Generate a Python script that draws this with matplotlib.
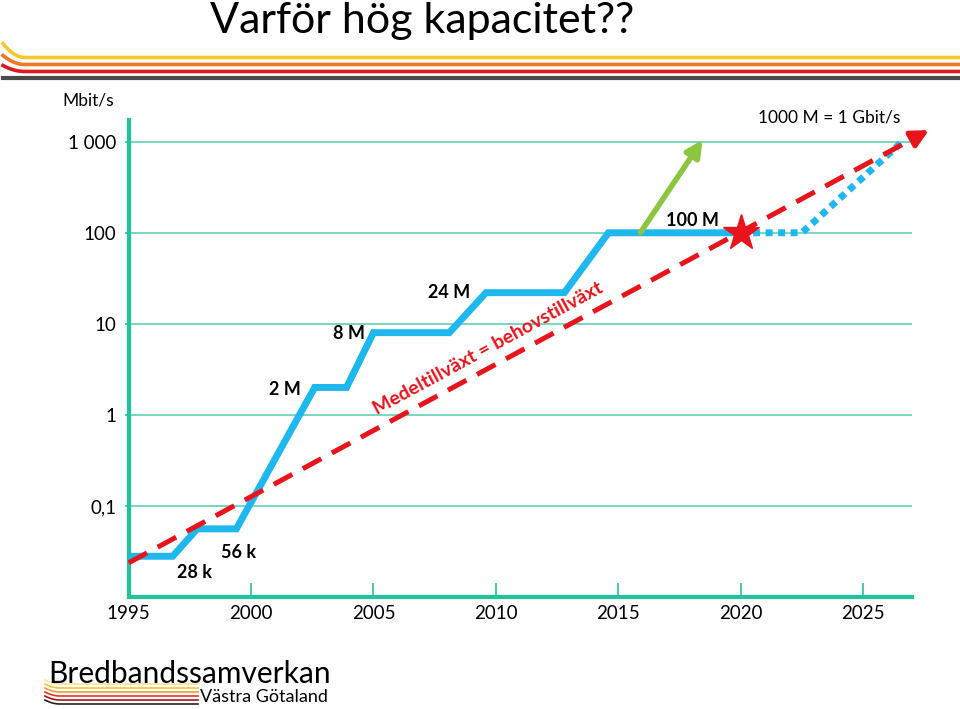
import numpy as np
import matplotlib
matplotlib.use('Agg')
import matplotlib.pyplot as plt
from matplotlib.lines import Line2D

plt.rcParams['font.family'] = ['Lato', 'DejaVu Sans']

#given data (Mbit/s per year)
years = [1995, 1996.8, 1997.8, 1999.4, 2002.6, 2003.9, 2005.0, 2008.1, 2009.6, 2012.8, 2014.6, 2020]
speed = [0.028, 0.028, 0.056, 0.056, 2, 2, 8, 8, 22, 22, 100, 100]

#forecast (dotted)
fc_years = [2020, 2022.5, 2026.6]
fc_speed = [100, 100, 1000]

#average growth (dashed)
avg_years = [1995, 2027.0]
avg_speed = [0.0237, 10**(-1.626 + 0.1454*32.0)]
avg_tip = (2027.7, 10**(-1.626 + 0.1454*32.7))

#green arrow
grn_start = (2015.9, 100)
grn_end = (2018.45, 1050)

#labels
lab_text = ['28 k', '56 k', '2 M', '8 M', '24 M', '100 M']
lab_x = [1997.7, 1999.5, 2001.4, 2004.0, 2008.1, 2018.05]
lab_y = [0.0188, 0.0305, 1.9, 7.9, 22, 138]

xticks = [1995, 2000, 2005, 2010, 2015, 2020, 2025]
yticks = [0.1, 1, 10, 100, 1000]
ytick_labels = ['0,1', '1', '10', '100', '1 000']

teal = '#22C39C'
blue = '#1FB8EE'
red = '#E8141C'

fig = plt.figure(figsize=(9.6, 7.09), dpi=100)
ax = fig.add_axes([0.134, 0.158, 0.816, 0.673])
ax.set_yscale('log')
ax.set_xlim(1995, 2027)
ax.set_ylim(0.01, 1740)

for v in yticks:
    ax.axhline(v, color='#62CFB6', lw=1.2, zorder=1)

ax.plot(years, speed, color=blue, lw=5, solid_joinstyle='miter', zorder=3)
ax.plot(fc_years, fc_speed, color=blue, lw=5, dashes=(1, 0.8), dash_capstyle='butt', zorder=3)
ax.plot(avg_years, avg_speed, color=red, lw=3.6, dashes=(4.2, 2.4), clip_on=False, zorder=4)
ax.annotate('', xy=avg_tip, xytext=(avg_years[1], avg_speed[1]),
            arrowprops=dict(arrowstyle='-|>', color=red, lw=3.6, mutation_scale=26,
                            shrinkA=0, shrinkB=0),
            annotation_clip=False, zorder=4)
ax.annotate('', xy=grn_end, xytext=grn_start,
            arrowprops=dict(arrowstyle='-|>', color='#8CC53F', lw=4, mutation_scale=24,
                            shrinkA=0, shrinkB=0),
            annotation_clip=False, zorder=4)
ax.plot([2020], [100], marker='*', color=red, markersize=27, zorder=5)

for t, x, y in zip(lab_text, lab_x, lab_y):
    ax.text(x, y, t, fontsize=13, fontweight='bold', ha='center', va='center', zorder=6)
ax.text(2023.6, 1830, '1000 M = 1 Gbit/s', fontsize=12.5, ha='center', va='center', clip_on=False)
ax.text(2009.7, 5.3, 'Medeltillväxt = behovstillväxt', fontsize=14, fontweight='bold',
        color=red, rotation=28.5, ha='center', va='center', rotation_mode='anchor')

#axes style
for s in ['top', 'right']:
    ax.spines[s].set_visible(False)
for s in ['left', 'bottom']:
    ax.spines[s].set_color(teal)
    ax.spines[s].set_linewidth(3)
ax.set_xticks(xticks)
ax.set_xticklabels([str(x) for x in xticks], fontsize=13.5)
ax.set_yticks(yticks)
ax.set_yticklabels(ytick_labels, fontsize=13.5)
ax.yaxis.set_minor_locator(matplotlib.ticker.NullLocator())
ax.tick_params(axis='x', direction='in', length=10, width=1.2, color=teal, pad=6)
ax.tick_params(axis='y', direction='out', length=3, width=1.2, color=teal, pad=6)
fig.text(88/960, 1-100/709, 'Mbit/s', fontsize=12.5, ha='center', va='center')

#title
fig.text(422/960, 1-21/709, 'Varför hög kapacitet??', fontsize=31, ha='center', va='center')

#top swoosh lines
W, H = 960, 709
def swoosh(y0, rise, color, lw):
    t = np.linspace(0, 1, 30)
    xs = list(3 + 22*t) + [960]
    ys = list(y0 - rise*(1-t)**2) + [y0]
    fig.add_artist(Line2D(np.array(xs)/W, 1-np.array(ys)/H, color=color, lw=lw))
swoosh(57.5, 14, '#F6C82E', 2.6)
swoosh(64.5, 9, '#EC7A23', 2.6)
swoosh(71.5, 6, '#DB1A1F', 2.6)
fig.add_artist(Line2D(np.array([3, 960])/W, 1-np.array([78, 78])/H, color='#4A4A4A', lw=3))

#logo
fig.text(48/960, 1-674/709, 'Bredbandssamverkan', fontsize=21.5, ha='left', va='center')
fig.text(200/960, 1-697/709, 'Västra Götaland', fontsize=13, ha='left', va='center')
logo_cols = ['#F8E2A0', '#F5C72E', '#EE9A3A', '#E0381F', '#B0101A', '#222222']
for i, c in enumerate(logo_cols):
    y0 = 684 + i*4
    t = np.linspace(0, 1, 20)
    xs = list(45 + 15*t) + [198]
    ys = list(y0 - 4*(1-t)**2) + [y0]
    fig.add_artist(Line2D(np.array(xs)/W, 1-np.array(ys)/H, color=c, lw=1.2))

plt.savefig('out.png', dpi=100)
